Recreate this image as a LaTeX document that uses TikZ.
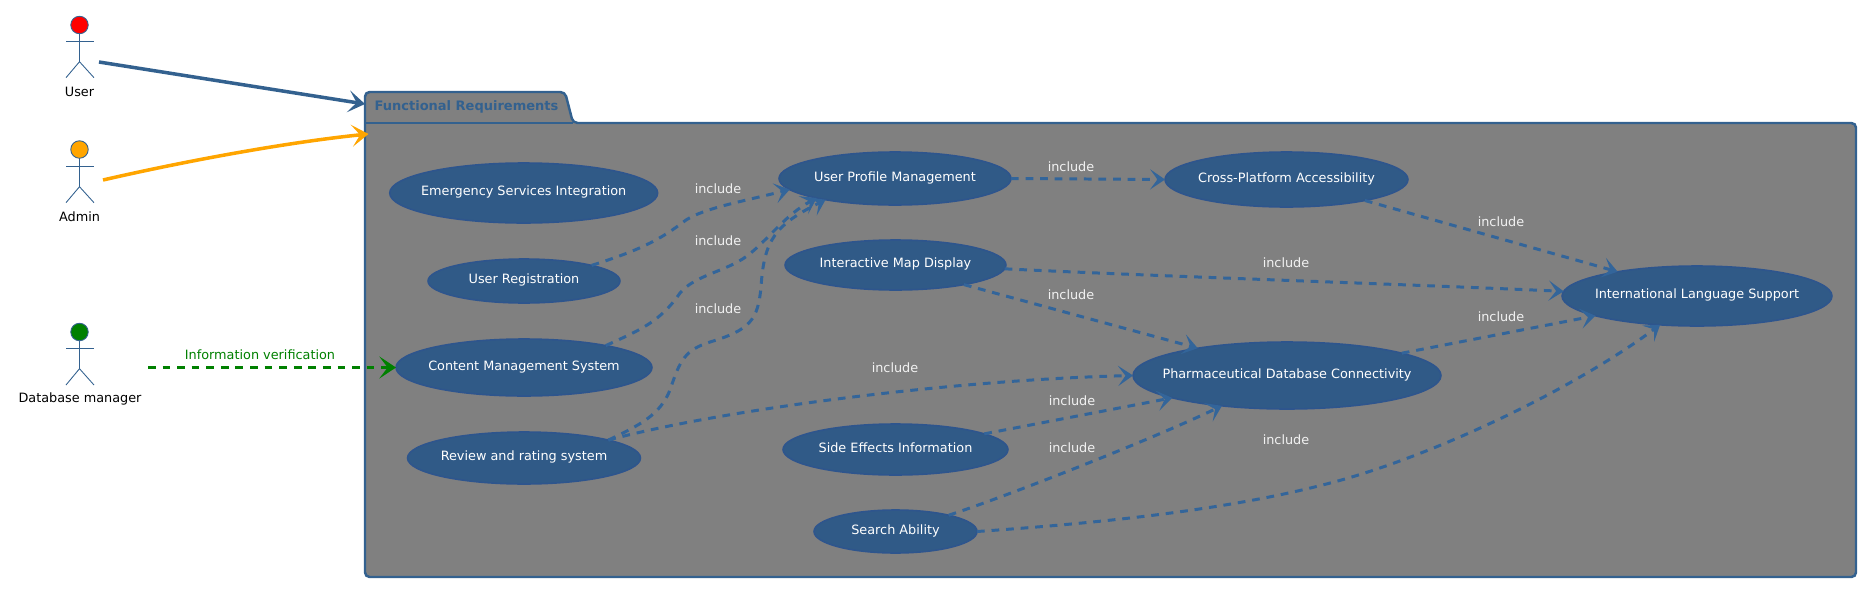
\documentclass[tikz,border=0pt]{standalone}
\usepackage{fontspec}
\setmainfont{DejaVu Sans}
\usepackage{tikz}
\usetikzlibrary{shapes.geometric,arrows.meta,positioning,calc}
\definecolor{ucblue}{HTML}{305A87}
\definecolor{edgeblue}{HTML}{33659A}
\definecolor{lineblue}{HTML}{33618F}
\definecolor{pkggray}{HTML}{808080}
\definecolor{dbgreen}{HTML}{008000}
\definecolor{adminorange}{HTML}{FFA500}

\begin{document}
\begin{tikzpicture}[
    x=0.02cm, y=-0.02cm,
    usecase/.style={draw=ucblue!95!blue, fill=ucblue, ellipse, line width=0.9pt, text=white, inner xsep=-3cm, inner ysep=-1cm, outer sep=0pt, text height=5.5pt, text depth=2.3pt, font=\fontsize{7.3}{9}\selectfont},
    actorhead/.style={draw=lineblue, circle, line width=0.5pt, minimum size=0.35cm, inner sep=0pt, outer sep=0pt},
    actorline/.style={draw=lineblue, line width=0.5pt},
    actorname/.style={text=black, inner sep=0pt, font=\fontsize{7.3}{9}\selectfont},
    inclabel/.style={text=white!95!black, inner sep=0pt, font=\fontsize{7.3}{9}\selectfont},
    incedge/.style={edgeblue, line width=1.7pt, dash pattern=on 4.4pt off 3.9pt, -{Stealth[length=8.5pt, width=11.5pt, inset=4.2pt]}},
    solidedge/.style={line width=2pt, -{Stealth[length=9.5pt, width=12.5pt, inset=4.7pt]}}
]
    \useasboundingbox (0,0) rectangle (1867,589);

    % Package
    \draw[lineblue, line width=1.4pt, fill=pkggray, rounded corners=2.6pt] (365,577) -- (365,92) -- (565,92) -- (573,123) -- (1856,123) -- (1856,577) -- cycle;
    \coordinate (tabL) at (365,123);
    \coordinate (tabR) at (573,123);
    \draw[lineblue, line width=1.4pt] (tabL) -- (tabR);
    \node[text=lineblue, inner sep=0pt, font=\fontsize{7.4}{9}\selectfont\bfseries] (pkgname) at (466.5,107) {Functional Requirements};

    % Actors
    \node[actorhead, fill=red] (userhead) at (79.5,25) {};
    \coordinate (userhip) at (79.5,61.7);
    \coordinate (userarmL) at (66,41.3);
    \coordinate (userarmR) at (94,41.3);
    \coordinate (userfootL) at (66,77.7);
    \coordinate (userfootR) at (94,77.7);
    \draw[actorline] (userhead) -- (userhip);
    \draw[actorline] (userarmL) -- (userarmR);
    \draw[actorline] (userfootL) -- (userhip) -- (userfootR);
    \node[actorname] (user) at (79.5,91.7) {User};

    \node[actorhead, fill=adminorange] (adminhead) at (79.5,149.5) {};
    \coordinate (adminhip) at (79.5,186.7);
    \coordinate (adminarmL) at (66,166);
    \coordinate (adminarmR) at (94,166);
    \coordinate (adminfootL) at (66,202.7);
    \coordinate (adminfootR) at (94,202.7);
    \draw[actorline] (adminhead) -- (adminhip);
    \draw[actorline] (adminarmL) -- (adminarmR);
    \draw[actorline] (adminfootL) -- (adminhip) -- (adminfootR);
    \node[actorname] (admin) at (79.5,216.7) {Admin};

    \node[actorhead, fill=dbgreen] (dbhead) at (79.5,332) {};
    \coordinate (dbhip) at (79.5,368.7);
    \coordinate (dbarmL) at (66,348.3);
    \coordinate (dbarmR) at (94,348.3);
    \coordinate (dbfootL) at (66,385);
    \coordinate (dbfootR) at (94,385);
    \draw[actorline] (dbhead) -- (dbhip);
    \draw[actorline] (dbarmL) -- (dbarmR);
    \draw[actorline] (dbfootL) -- (dbhip) -- (dbfootR);
    \node[actorname] (dbmanager) at (80,399) {Database manager};

    % Use cases
    \node[usecase, minimum width=5.36cm, minimum height=1.2cm] (emergency) at (523.7,193) {Emergency Services Integration};
    \node[usecase, minimum width=3.84cm, minimum height=0.88cm] (register) at (524,281) {User Registration};
    \node[usecase, minimum width=5.12cm, minimum height=1.14cm] (content) at (524,367.5) {Content Management System};
    \node[usecase, minimum width=4.66cm, minimum height=1.04cm] (review) at (524,458) {Review and rating system};
    \node[usecase, minimum width=4.64cm, minimum height=1.06cm] (profile) at (895,178.5) {User Profile Management};
    \node[usecase, minimum width=4.42cm, minimum height=1.0cm] (mapview) at (895.5,265) {Interactive Map Display};
    \node[usecase, minimum width=4.5cm, minimum height=1.02cm] (sideeffects) at (895.5,449.5) {Side Effects Information};
    \node[usecase, minimum width=3.26cm, minimum height=0.86cm] (search) at (895.5,531.5) {Search Ability};
    \node[usecase, minimum width=4.86cm, minimum height=1.1cm] (crossplat) at (1286.5,179.5) {Cross-Platform Accessibility};
    \node[usecase, minimum width=6.16cm, minimum height=1.34cm] (pharma) at (1287,375.5) {Pharmaceutical Database Connectivity};
    \node[usecase, minimum width=5.4cm, minimum height=1.2cm] (language) at (1697,296) {International Language Support};

    % Actor arrows
    \coordinate (userstart) at (99,62);
    \coordinate (userend) at (365,104);
    \coordinate (adminstart) at (103,180);
    \coordinate (adminend) at (368.5,134);
    \coordinate (dbstart) at (148,367.5);
    \draw[solidedge, lineblue] (userstart) -- (userend);
    \draw[solidedge, adminorange] (adminstart) .. controls (190,160) and (290,142) .. (adminend);
    \draw[dbgreen, line width=2pt, dash pattern=on 4.4pt off 3.9pt, -{Stealth[length=9.5pt, width=12.5pt, inset=4.7pt]}] (dbstart) -- (content.180);
    \node[text=dbgreen, inner sep=0pt, font=\fontsize{7.3}{9}\selectfont] (verify) at (260,354.7) {Information verification};

    % Include edges
    \draw[incedge] (register.13) .. controls (640,250) and (660,240) .. (686,220) .. controls (705,208) and (740,202) .. (profile.186.4);
    \draw[incedge] (content.15.3) .. controls (640,330) and (660,322) .. (680,293) .. controls (695,275) and (725,272) .. (747,256) .. controls (768,240) and (785,215) .. (profile.194);
    \draw[incedge] (review.12.7) .. controls (640,425) and (660,415) .. (670,390) .. controls (680,360) and (685,350) .. (710,342) .. controls (750,330) and (758,320) .. (761,287) .. controls (764,240) and (775,225) .. (profile.197);
    \draw[incedge] (review.12.7) .. controls (720,410) and (950,380) .. (pharma.180);
    \draw[incedge] (profile.0) -- (crossplat.180);
    \draw[incedge] (mapview.-2.1) .. controls (1150,276) and (1400,284) .. (language.178);
    \draw[incedge] (mapview.-16.5) -- (pharma.163.7);
    \draw[incedge] (crossplat.-15.9) -- (language.163.9);
    \draw[incedge] (pharma.11) -- (language.191.7);
    \draw[incedge] (sideeffects.10.9) -- (pharma.191.4);
    \draw[incedge] (search.17.8) .. controls (1010,495) and (1150,440) .. (pharma.205.2);
    \draw[incedge] (search.0) .. controls (1100,523) and (1230,510) .. (1334,482) .. controls (1425,458) and (1565,395) .. (language.218.8);

    % Include labels
    \node[inclabel] (inc1) at (718,189) {include};
    \node[inclabel] (inc2) at (718,241) {include};
    \node[inclabel] (inc3) at (718,309) {include};
    \node[inclabel] (inc4) at (895,368) {include};
    \node[inclabel] (inc5) at (1071,167) {include};
    \node[inclabel] (inc6) at (1286,263) {include};
    \node[inclabel] (inc7) at (1071,295) {include};
    \node[inclabel] (inc8) at (1501,222) {include};
    \node[inclabel] (inc9) at (1501,317) {include};
    \node[inclabel] (inc10) at (1072,401) {include};
    \node[inclabel] (inc11) at (1072,448) {include};
    \node[inclabel] (inc12) at (1286,440) {include};
\end{tikzpicture}
\end{document}
